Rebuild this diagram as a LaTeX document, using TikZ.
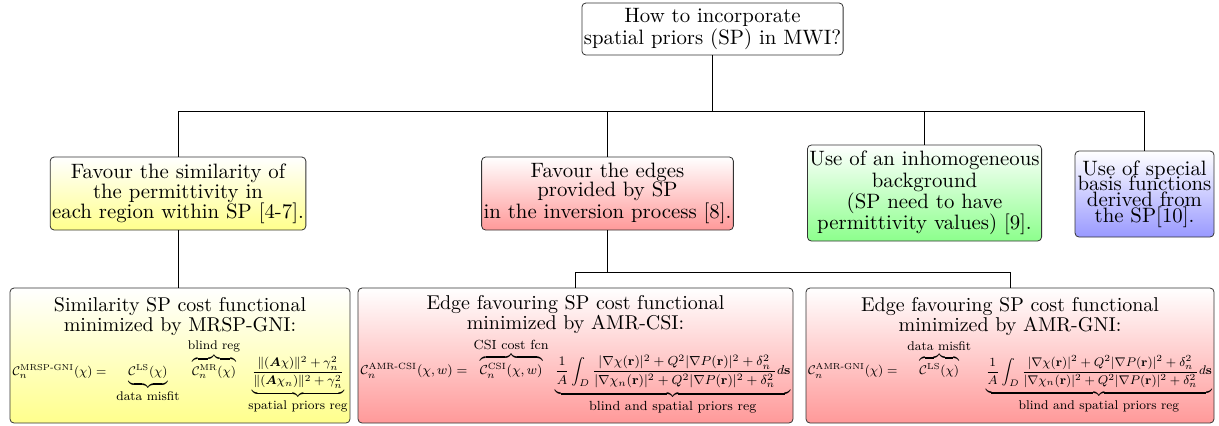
\documentclass[tikz,border=0pt]{standalone}
\usepackage{amsmath,amssymb}
\usepackage{graphicx}
\tikzset{
  box/.style={draw=black!80, rounded corners=2pt, align=center, inner sep=1pt,
    font=\fontsize{10.4}{9.75}\selectfont},
  yelbox/.style={box, top color=white, bottom color=yellow!45},
  redbox/.style={box, top color=white, bottom color=red!40},
  grnbox/.style={box, top color=white, bottom color=green!45},
  blubox/.style={box, top color=white, bottom color=blue!40},
  costbox/.style={minimum height=67.5pt, font=\fontsize{10}{10}\selectfont},
  link/.style={draw=black, line width=0.5pt}
}
\newcommand{\costC}{\mathcal{C}}
\newcommand{\brlab}[1]{\mbox{\fontsize{8.1}{9}\selectfont #1}}
\newcommand{\fiteq}[2]{\resizebox{#1}{!}{\fontsize{7.9}{8}\selectfont$\displaystyle #2$}}
\newcommand{\tightlines}{\lineskiplimit=-10pt\relax}
\newcommand{\spreg}{\frac{|\nabla\chi(\mathbf{r})|^2+Q^2|\nabla P(\mathbf{r})|^2+\delta_n^2}{|\nabla\chi_n(\mathbf{r})|^2+Q^2|\nabla P(\mathbf{r})|^2+\delta_n^2}}
\begin{document}
\begin{tikzpicture}[x=0.5pt,y=-0.5pt]
\useasboundingbox (0,0) rectangle (1219,425);
\node[box, fill=white, minimum width=130.5pt, minimum height=26pt] (root) at (712.5,29)
  {How to incorporate\\spatial priors (SP) in MWI?};
\node[yelbox, minimum width=126pt, minimum height=36.5pt,
  font=\fontsize{10.4}{10}\selectfont] (simil) at (178,193.5)
  {Favour the similarity of\\the permittivity in\\each region within SP [4-7].};
\node[redbox, minimum width=124.5pt, minimum height=36.5pt] (edges) at (607.5,193.5)
  {Favour the edges\\provided by SP\\in the inversion process [8].};
\node[grnbox, minimum width=115.5pt, minimum height=48pt,
  font=\fontsize{10.4}{10.6}\selectfont] (inhom) at (924.5,193)
  {Use of an inhomogeneous\\background\\(SP need to have\\permittivity values) [9].};
\node[blubox, minimum width=69.5pt, minimum height=43pt,
  font=\fontsize{10.4}{7.8}\selectfont\tightlines] (basis) at (1144.5,194)
  {Use of special\\basis functions\\derived from\\the SP[10].};
\node[yelbox, costbox, minimum width=170pt] (mrsp) at (180,355.5)
  {Similarity SP cost functional\\minimized by MRSP-GNI:\\[1pt]
  \fiteq{167.5pt}{\costC_n^{\text{MRSP-GNI}}(\chi)=\enspace
  \underbrace{\costC^{\text{LS}}(\chi)}_{\brlab{data misfit}}\enspace
  \overbrace{\costC_n^{\text{MR}}(\chi)}^{\brlab{blind reg}}\enspace
  \underbrace{\frac{\|(\boldsymbol{A}\chi)\|^2+\gamma_n^2}{\|(\boldsymbol{A}\chi_n)\|^2+\gamma_n^2}}_{\brlab{spatial priors reg}}}};
\node[redbox, costbox, minimum width=217.5pt] (csi) at (575.5,355.5)
  {Edge favouring SP cost functional\\minimized by AMR-CSI:\\[1pt]
  \fiteq{215pt}{\costC_n^{\text{AMR-CSI}}(\chi,w)=\,
  \overbrace{\costC_n^{\text{CSI}}(\chi,w)}^{\brlab{CSI cost fcn}}\;
  \underbrace{\frac{1}{A}\int_D\spreg d\mathbf{s}}_{\brlab{blind and spatial priors reg}}}};
\node[redbox, costbox, minimum width=204pt] (gni) at (1010,355.5)
  {Edge favouring SP cost functional\\minimized by AMR-GNI:\\[1pt]
  \fiteq{202pt}{\costC_n^{\text{AMR-GNI}}(\chi)=\enspace
  \overbrace{\costC^{\text{LS}}(\chi)}^{\brlab{data misfit}}\quad
  \underbrace{\frac{1}{A}\int_D\spreg d\mathbf{s}}_{\brlab{blind and spatial priors reg}}}};
\coordinate (split) at (712.5,111);
\coordinate (split2) at (607.5,272);
\foreach \kid in {simil,edges,inhom,basis}
  \draw[link] (root.south) -- (split) -| (\kid.north);
\draw[link] (simil.south) -- (simil.south |- mrsp.north);
\foreach \kid in {csi,gni}
  \draw[link] (edges.south) -- (split2) -| (\kid.north);
\end{tikzpicture}
\end{document}
